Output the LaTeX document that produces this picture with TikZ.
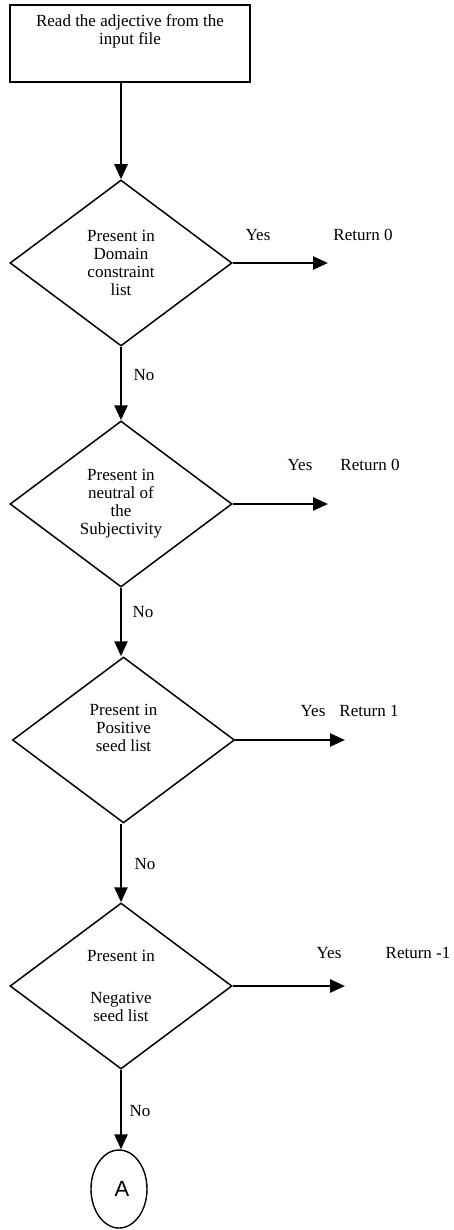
\documentclass[tikz,border=0pt]{standalone}
\usepackage{fontspec}
\setmainfont{Liberation Serif}
\setsansfont{Liberation Sans}
\usetikzlibrary{positioning,arrows.meta,shapes.geometric}
\tikzset{
  flow text/.style={font=\fontsize{17}{18}\selectfont, align=center},
  read box/.style={draw, line width=1.8pt, minimum width=240pt, minimum height=77pt, inner sep=0pt},
  test/.style={diamond, draw, line width=1.5pt, minimum width=222pt, minimum height=166pt,
    inner sep=0pt, flow text},
  connector/.style={ellipse, draw, line width=1.4pt, minimum width=56pt, minimum height=78pt,
    inner sep=0pt, font=\sffamily\fontsize{22}{22}\selectfont},
  flow arrow/.style={-{Triangle[length=15pt,width=13pt]}, line width=2.6pt},
  tag/.style={flow text}
}

\begin{document}
\begin{tikzpicture}[x=1pt, y=-1pt]
  \useasboundingbox (0,0) rectangle (453,1230);

  % Start box
  \node[read box, label={[flow text, anchor=north, yshift=-7pt]north:Read the adjective from the\\input file}]
    (read) at (130,43.5) {};

  % Tests
  \node[test] (d1) at (121,263) {Present in\\Domain\\constraint\\list};
  \node[test] (d2) at (121,504) {Present in\\neutral of\\the\\Subjectivity};
  \node[test] (d3) at (123.5,740) {Present in\\Positive\\seed list\\[6pt]\mbox{}};
  \node[test] (d4) at (121,986) {Present in\\[24pt]Negative\\seed list};

  % Off-page connector
  \node[connector] (A) at (119,1189) {\hspace{6pt}A};

  % Yes branches
  \coordinate (y1) at (328,263);
  \coordinate (y2) at (328,504);
  \coordinate (y3) at (345,740);
  \coordinate (y4) at (345,986);
  \draw[flow arrow] (d1.east) -- (y1);
  \draw[flow arrow] (d2.east) -- (y2);
  \draw[flow arrow] (d3.east) -- (y3);
  \draw[flow arrow] (d4.east) -- (y4);

  \node[tag] (yes1) at (258,235) {Yes};
  \node[tag] (ret1) at (363,235) {Return 0};
  \node[tag] (yes2) at (300,465) {Yes};
  \node[tag] (ret2) at (370,465) {Return 0};
  \node[tag] (yes3) at (313,711) {Yes};
  \node[tag] (ret3) at (369,711) {Return 1};
  \node[tag] (yes4) at (329,953) {Yes};
  \node[tag] (ret4) at (418,953) {Return -1};

  % No branches
  \draw[flow arrow] (d1.north |- read.south) -- (d1.north);
  \draw[flow arrow] (d1.south) -- (d2.north);
  \draw[flow arrow] (d2.south) -- (d3.north -| d2.south);
  \draw[flow arrow] (d3.south -| d4.north) -- (d4.north);
  \draw[flow arrow] (d4.south) -- (A.north -| d4.south);

  \node[tag] (no1) at (144,375) {No};
  \node[tag] (no2) at (143,612) {No};
  \node[tag] (no3) at (145,864) {No};
  \node[tag] (no4) at (140,1111) {No};

\end{tikzpicture}
\end{document}
